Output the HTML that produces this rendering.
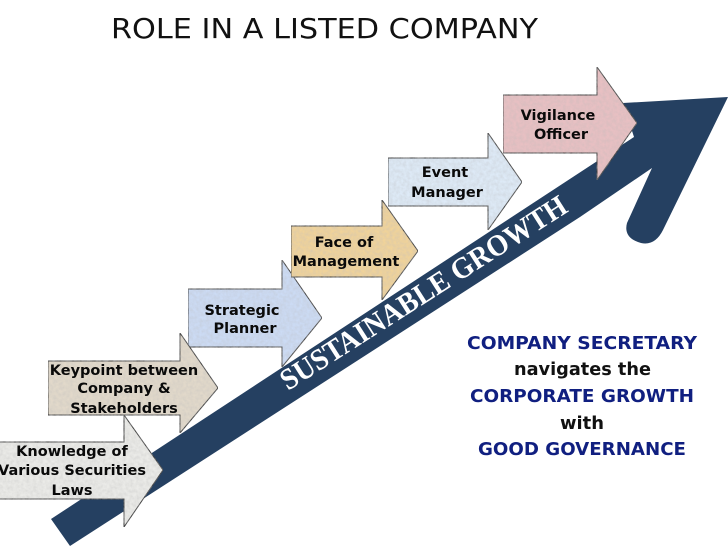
<!DOCTYPE html>
<html><head><meta charset="utf-8"><style>html,body{margin:0;padding:0;background:#fff}svg{display:block}
.l{font:bold 14.5px "DejaVu Sans",sans-serif;fill:#0a0a0a;text-anchor:middle}
.b{font:bold 18px "DejaVu Sans",sans-serif}
.a{stroke:#3a3a3a;stroke-width:1}
</style></head><body>
<svg width="728" height="546" viewBox="0 0 728 546" xmlns="http://www.w3.org/2000/svg">
<defs><filter id="n" x="0" y="0" width="100%" height="100%"><feTurbulence type="fractalNoise" baseFrequency="0.3" numOctaves="3" seed="3"/><feColorMatrix values="0 0 0 0 0.5 0 0 0 0 0.5 0 0 0 0 0.5 0.6 0 0 0 -0.15"/><feComposite in2="SourceGraphic" operator="in" result="t"/><feMerge><feMergeNode in="SourceGraphic"/><feMergeNode in="t"/></feMerge></filter></defs>
<text x="111" y="38" textLength="427" lengthAdjust="spacingAndGlyphs" style="font:28px 'DejaVu Sans',sans-serif" fill="#111">ROLE IN A LISTED COMPANY</text>
<path d="M51 519L634 137L623 103L728 97L663 230Q655 246 641 243Q623 238 627 223L652 168L580 217L70 546Z" fill="#254061"/>
<path d="M624 141L634 136L630 139.5Z" fill="#fff"/>
<g class="a">
<path d="M188 289H282V260L322 318L282 367V347H188Z" fill="#ccdbf4" filter="url(#n)"/>
<path d="M48 361H180V333L218 388L180 433V415H48Z" fill="#e2d9ca" filter="url(#n)"/>
<path d="M-2 442H124V415L163 470L124 527V499H-2Z" fill="#ebebe8" filter="url(#n)"/>
<path d="M291 226H382V200L418 251L382 300V277H291Z" fill="#f0d39a" filter="url(#n)"/>
<path d="M388 158H488V133L522 182L488 230V206H388Z" fill="#deeaf7" filter="url(#n)"/>
<path d="M503 95H597V67L637 123L597 180V153H503Z" fill="#e8c0c2" filter="url(#n)"/>
</g>
<text class="l" x="558" y="120">Vigilance</text><text class="l" x="561" y="139">Officer</text>
<text class="l" x="445" y="177">Event</text><text class="l" x="447" y="197">Manager</text>
<text class="l" x="344" y="247">Face of</text><text class="l" x="346" y="266">Management</text>
<text class="l" x="242" y="315">Strategic</text><text class="l" x="245" y="333">Planner</text>
<text class="l" x="124" y="375">Keypoint between</text><text class="l" x="124" y="393">Company &amp;</text><text class="l" x="124" y="413">Stakeholders</text>
<text class="l" x="72" y="456">Knowledge of</text><text class="l" x="72" y="475">Various Securities</text><text class="l" x="72" y="495">Laws</text>
<text transform="translate(288 391) rotate(-32.6)" textLength="334" lengthAdjust="spacingAndGlyphs" style="font:bold 30px 'Liberation Serif',serif" fill="#fff">SUSTAINABLE GROWTH</text>
<text class="b" x="467" y="349" textLength="230" lengthAdjust="spacingAndGlyphs" fill="#101f80">COMPANY SECRETARY</text>
<text class="b" x="514" y="375" textLength="137" lengthAdjust="spacingAndGlyphs" fill="#111">navigates the</text>
<text class="b" x="470" y="402" textLength="224" lengthAdjust="spacingAndGlyphs" fill="#101f80">CORPORATE GROWTH</text>
<text class="b" x="560" y="429" textLength="44" lengthAdjust="spacingAndGlyphs" fill="#111">with</text>
<text class="b" x="478" y="455" textLength="208" lengthAdjust="spacingAndGlyphs" fill="#101f80">GOOD GOVERNANCE</text>
</svg></body></html>
